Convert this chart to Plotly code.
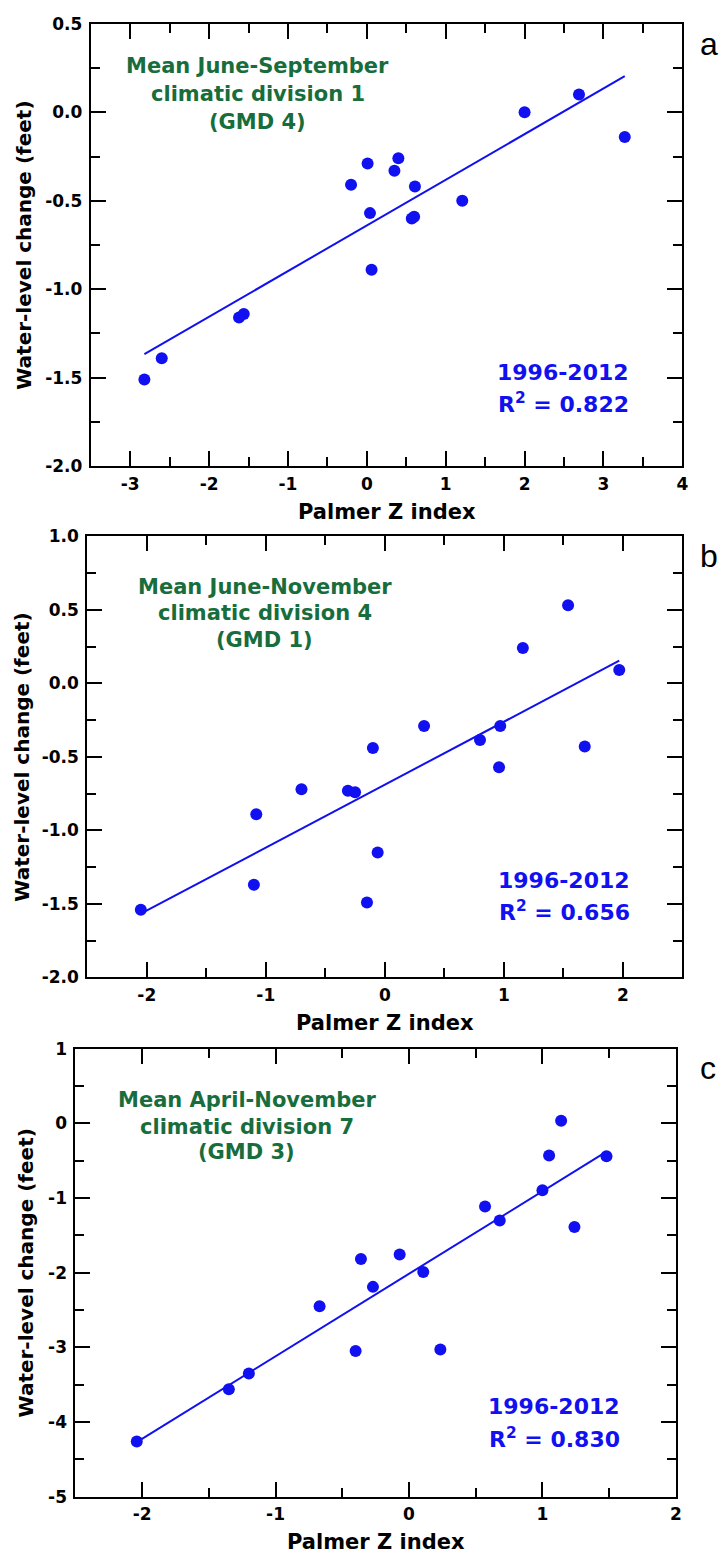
import numpy as np
import plotly.graph_objects as go

W, H = 728, 1567
FONT = "DejaVu Sans, Liberation Sans, Arial, sans-serif"
LFONT = "Liberation Sans, Arial, sans-serif"
BLUE = "#1010f0"
GREEN = "#186d3c"

# ---------------- data ----------------
# Panel a: Mean June-September, climatic division 1 (GMD 4)
a_z = [2.00, 2.69, 3.27, 0.01, 0.40, 0.35, -0.20, 0.61, 1.21, 0.04, 0.57, 0.60,
       0.06, -1.62, -1.56, -2.60, -2.82]
a_wl = [0.00, 0.10, -0.14, -0.29, -0.26, -0.33, -0.41, -0.42, -0.50, -0.57, -0.60, -0.59,
        -0.89, -1.16, -1.14, -1.39, -1.51]

# Panel b: Mean June-November, climatic division 4 (GMD 1)
b_z = [1.54, 1.16, 1.97, 0.33, 0.97, 0.80, -0.10, 1.68, 0.96, -0.70, -0.31, -0.25,
       -1.08, -0.06, -1.10, -0.15, -2.05]
b_wl = [0.53, 0.24, 0.09, -0.29, -0.29, -0.385, -0.44, -0.43, -0.57, -0.72, -0.73, -0.74,
        -0.89, -1.15, -1.37, -1.49, -1.54]

# Panel c: Mean April-November, climatic division 7 (GMD 3)
c_z = [1.14, 1.05, 1.48, 1.00, 0.57, 0.68, 1.24, -0.36, -0.07, 0.107, -0.27, -0.67,
       -0.40, 0.235, -1.20, -1.35, -2.04]
c_wl = [0.035, -0.43, -0.44, -0.895, -1.115, -1.30, -1.39, -1.817, -1.756, -1.99, -2.19, -2.45,
        -3.05, -3.03, -3.35, -3.56, -4.26]

a_xticks = [-3, -2, -1, 0, 1, 2, 3, 4]
a_xtext = ["-3", "-2", "-1", "0", "1", "2", "3", "4"]
a_yticks = [-2.0, -1.5, -1.0, -0.5, 0.0, 0.5]
a_ytext = ["-2.0", "-1.5", "-1.0", "-0.5", "0.0", "0.5"]

b_xticks = [-2, -1, 0, 1, 2]
b_xtext = ["-2", "-1", "0", "1", "2"]
b_yticks = [-2.0, -1.5, -1.0, -0.5, 0.0, 0.5, 1.0]
b_ytext = ["-2.0", "-1.5", "-1.0", "-0.5", "0.0", "0.5", "1.0"]

c_xticks = [-2, -1, 0, 1, 2]
c_xtext = ["-2", "-1", "0", "1", "2"]
c_yticks = [-5, -4, -3, -2, -1, 0, 1]
c_ytext = ["-5", "-4", "-3", "-2", "-1", "0", "1"]

a_title = ["Mean June-September", "climatic division 1", "(GMD 4)"]
b_title = ["Mean June-November", "climatic division 4", "(GMD 1)"]
c_title = ["Mean April-November", "climatic division 7", "(GMD 3)"]
period = "1996-2012"
a_r2, b_r2, c_r2 = "0.822", "0.656", "0.830"
x_title = "Palmer Z index"
y_title = "Water-level change (feet)"

# ---------------- layout geometry (pixels) ----------------
panels = [
    dict(z=a_z, wl=a_wl, xr=[-3.5, 4], yr=[-2, 0.5], xt=a_xticks, xtt=a_xtext,
         yt=a_yticks, ytt=a_ytext, xminor=0.5, yminor=0.25,
         box=(91.5, 688, 14, 462), title=a_title, r2=a_r2, label="a",
         green=(260, [57, 85, 113]), blue=(568, [367, 398]), ytx=24),
    dict(z=b_z, wl=b_wl, xr=[-2.5, 2.5], yr=[-2, 1], xt=b_xticks, xtt=b_xtext,
         yt=b_yticks, ytt=b_ytext, xminor=0.5, yminor=0.25,
         box=(88, 688, 533, 980), title=b_title, r2=b_r2, label="b",
         green=(267, [584, 611, 638]), blue=(569, [882, 913]), ytx=22),
    dict(z=c_z, wl=c_wl, xr=[-2.5, 2], yr=[-5, 1], xt=c_xticks, xtt=c_xtext,
         yt=c_yticks, ytt=c_ytext, xminor=0.5, yminor=0.5,
         box=(76, 681.5, 1052, 1506), title=c_title, r2=c_r2, label="c",
         green=(249, [1104, 1131, 1157]), blue=(559, [1415, 1446]), ytx=26),
]


def px(x):
    return x / W


def py(y):
    return 1 - y / H


fig = go.Figure()
annotations = []
tickfont = dict(family=FONT, size=17, color="black", weight="bold")

for i, p in enumerate(panels):
    n = "" if i == 0 else str(i + 1)
    xa, ya = "x" + n, "y" + n
    z = np.array(p["z"])
    wl = np.array(p["wl"])
    fig.add_trace(go.Scatter(x=z, y=wl, mode="markers", xaxis=xa, yaxis=ya,
                             marker=dict(color=BLUE, size=12), showlegend=False))
    slope, icpt = np.polyfit(z, wl, 1)
    lx = np.array([z.min(), z.max()])
    fig.add_trace(go.Scatter(x=lx, y=slope * lx + icpt, mode="lines", xaxis=xa, yaxis=ya,
                             line=dict(color=BLUE, width=2), showlegend=False))

    x0, x1, y0, y1 = p["box"]
    common = dict(showline=True, linecolor="black", linewidth=2, mirror="ticks",
                  ticks="inside", ticklen=15, tickwidth=2, tickcolor="black",
                  showgrid=False, zeroline=False, tickfont=tickfont, tickmode="array")
    fig.layout["xaxis" + n] = dict(
        common, domain=[px(x0), px(x1)], range=p["xr"], anchor=ya,
        tickvals=p["xt"], ticktext=p["xtt"], ticklabelstandoff=1,
        minor=dict(ticks="inside", ticklen=9, tickwidth=2, tickcolor="black",
                   dtick=p["xminor"], tick0=0, showgrid=False))
    fig.layout["yaxis" + n] = dict(
        common, domain=[py(y1), py(y0)], range=p["yr"], anchor=xa,
        tickvals=p["yt"], ticktext=p["ytt"], ticklabelstandoff=3,
        minor=dict(ticks="inside", ticklen=9, tickwidth=2, tickcolor="black",
                   dtick=p["yminor"], tick0=0, showgrid=False))

    gx, gys = p["green"]
    for line, gy in zip(p["title"], gys):
        annotations.append(dict(text=line, x=px(gx), y=py(gy), xref="paper", yref="paper",
                                xanchor="center", yanchor="middle", showarrow=False,
                                font=dict(family=FONT, size=21, color=GREEN, weight="bold")))
    bx, bys = p["blue"]
    for line, by in zip([period, "R<sup>2</sup> = " + p["r2"]], bys):
        annotations.append(dict(text=line, x=px(bx), y=py(by), xref="paper", yref="paper",
                                xanchor="center", yanchor="middle", showarrow=False,
                                font=dict(family=FONT, size=22, color=BLUE, weight="bold")))
    annotations.append(dict(text=p["label"], x=px(704), y=py(y0 + 20), xref="paper",
                            yref="paper", xanchor="left", yanchor="middle", showarrow=False,
                            font=dict(family=LFONT, size=32, color="black")))
    annotations.append(dict(text=x_title, x=px((x0 + x1) / 2), y=py(y1 + 46), xref="paper",
                            yref="paper", xanchor="center", yanchor="middle", showarrow=False,
                            font=dict(family=FONT, size=21, color="black", weight="bold")))
    annotations.append(dict(text=y_title, x=px(p["ytx"]), y=py((y0 + y1) / 2), xref="paper",
                            yref="paper", xanchor="center", yanchor="middle", showarrow=False,
                            textangle=-90,
                            font=dict(family=FONT, size=20, color="black", weight="bold")))

fig.update_layout(width=W, height=H, margin=dict(l=0, r=0, t=0, b=0),
                  paper_bgcolor="white", plot_bgcolor="white",
                  annotations=annotations, showlegend=False)

fig.write_html("out.html")
